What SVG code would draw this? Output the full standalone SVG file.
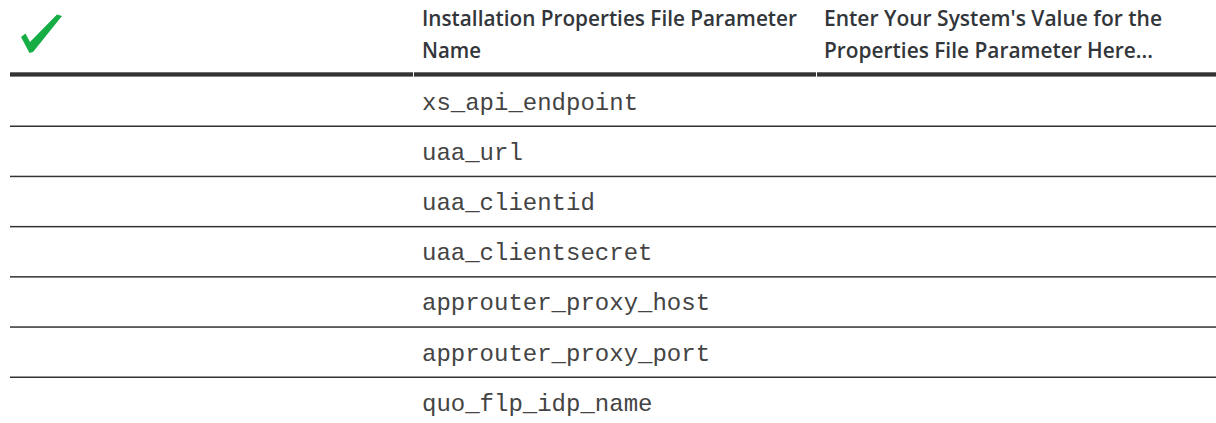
<svg xmlns="http://www.w3.org/2000/svg" width="1216" height="423" viewBox="0 0 1216 423">
  <style>
    .hdr { font-family: "Open Sans", "Liberation Sans", Arial, sans-serif; font-size: 21px; font-weight: 600; fill: #32363a; }
    .mono { font-family: "Liberation Mono", "Courier New", monospace; font-size: 24px; fill: #444444; }
    .rule-thick { fill: #333333; }
    .rule-thin { fill: #333333; }
  </style>
  <rect width="1216" height="423" fill="#ffffff"/>

  <!-- header: check icon and column titles -->
  <g id="header">
    <polygon id="check-icon" points="21,37 25.5,33.5 30,42 57,14.5 62,16 33,52 29.5,53" fill="#17ad45"/>
    <text class="hdr" x="422" y="25.5" textLength="375" lengthAdjust="spacingAndGlyphs">Installation Properties File Parameter</text>
    <text class="hdr" x="422" y="57.5" textLength="59" lengthAdjust="spacingAndGlyphs">Name</text>
    <text class="hdr" x="824" y="25.5" textLength="338" lengthAdjust="spacingAndGlyphs">Enter Your System's Value for the</text>
    <text class="hdr" x="824" y="57.5" textLength="329" lengthAdjust="spacingAndGlyphs">Properties File Parameter Here...</text>
  </g>

  <!-- table rules -->
  <g id="rules">
    <rect class="rule-thick" x="10" y="72.3" width="403" height="4.3"/>
    <rect class="rule-thick" x="414" y="72.3" width="402" height="4.3"/>
    <rect class="rule-thick" x="817" y="72.3" width="399" height="4.3"/>
    <rect class="rule-thin" x="10" y="125.5" width="1206" height="1.5"/>
    <rect class="rule-thin" x="10" y="175.7" width="1206" height="1.5"/>
    <rect class="rule-thin" x="10" y="225.9" width="1206" height="1.5"/>
    <rect class="rule-thin" x="10" y="276.1" width="1206" height="1.5"/>
    <rect class="rule-thin" x="10" y="326.3" width="1206" height="1.5"/>
    <rect class="rule-thin" x="10" y="376.5" width="1206" height="1.5"/>
  </g>

  <!-- parameter names -->
  <g id="row-1"><text class="mono" x="422" y="109.5">xs_api_endpoint</text></g>
  <g id="row-2"><text class="mono" x="422" y="159.7">uaa_url</text></g>
  <g id="row-3"><text class="mono" x="422" y="209.9">uaa_clientid</text></g>
  <g id="row-4"><text class="mono" x="422" y="260.1">uaa_clientsecret</text></g>
  <g id="row-5"><text class="mono" x="422" y="310.3">approuter_proxy_host</text></g>
  <g id="row-6"><text class="mono" x="422" y="360.5">approuter_proxy_port</text></g>
  <g id="row-7"><text class="mono" x="422" y="410.7">quo_flp_idp_name</text></g>
</svg>
